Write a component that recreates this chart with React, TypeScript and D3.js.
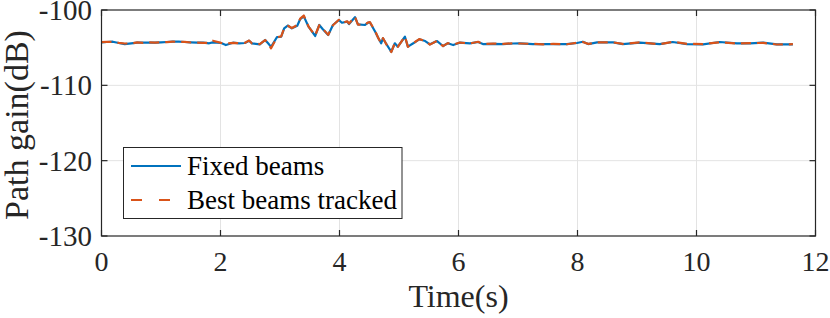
import React from 'react';
import * as d3 from 'd3';

// time samples (s)
const times = [
  0.0, 0.09, 0.19, 0.29, 0.39, 0.5, 0.6, 0.7, 0.8, 0.9, 1.0, 1.1, 1.2, 1.3, 1.4, 1.5, 1.61, 1.71, 1.81, 1.87,
  2.01, 2.09, 2.21, 2.31, 2.41, 2.48, 2.53, 2.66, 2.75, 2.8, 2.85, 2.95, 3.02, 3.07, 3.13, 3.2, 3.29, 3.34, 3.4,
  3.48, 3.59, 3.66, 3.72, 3.81, 3.89, 3.99, 4.04, 4.13, 4.16, 4.26, 4.31, 4.43, 4.48, 4.51, 4.6, 4.65, 4.7, 4.73,
  4.78, 4.87, 4.93, 4.98, 5.1, 5.15, 5.24, 5.34, 5.44, 5.52, 5.64, 5.74, 5.82, 5.91, 6.02, 6.19, 6.33, 6.41, 6.58,
  6.75, 6.91, 7.03, 7.25, 7.42, 7.59, 7.82, 7.99, 8.09, 8.18, 8.33, 8.6, 8.76, 9.05, 9.38, 9.6, 9.84, 10.11, 10.39,
  10.68, 10.9, 11.12, 11.35, 11.62,
];

// path gain (dB), fixed beams
const fixedBeams = [
  -104.29, -104.25, -104.21, -104.38, -104.52, -104.42, -104.34, -104.34, -104.34, -104.32, -104.29, -104.25,
  -104.21, -104.21, -104.25, -104.29, -104.34, -104.34, -104.42, -104.3,
  -104.38, -104.65, -104.34, -104.42, -104.38, -104.08, -104.42, -104.56, -103.98, -104.42, -104.9, -103.59,
  -103.55, -102.43, -102.06, -102.43, -102.09, -101.2, -100.85,
  -102.22, -103.45, -101.99, -102.56, -103.32, -101.99, -101.33, -101.69, -101.55, -101.86, -100.95, -101.9,
  -101.99, -101.69, -101.63, -102.88, -103.68, -104.42, -103.76,
  -104.42, -105.54, -104.42, -104.87, -103.55, -104.87, -104.42, -103.89, -104.12, -104.56, -104.12, -104.78,
  -104.42, -104.65, -104.34, -104.42, -104.25, -104.52, -104.49,
  -104.52, -104.45, -104.42, -104.52, -104.52, -104.52, -104.52, -104.38, -104.21, -104.52, -104.29, -104.29,
  -104.52, -104.34, -104.52, -104.25, -104.52, -104.56, -104.25,
  -104.42, -104.42, -104.34, -104.56, -104.56,
];

// path gain (dB), best beams tracked
const trackedBeams = [
  -104.27, -104.22, -104.24, -104.36, -104.45, -104.44, -104.3, -104.36, -104.31, -104.33, -104.27, -104.27,
  -104.2, -104.23, -104.22, -104.31, -104.33, -104.36, -104.38, -104.08,
  -104.36, -104.45, -104.36, -104.4, -104.36, -104.05, -104.44, -104.52, -104.0, -104.4, -105.09, -103.62,
  -103.5, -102.45, -102.1, -102.4, -102.0, -101.15, -100.73,
  -102.2, -103.4, -102.02, -102.5, -103.3, -102.02, -101.3, -101.72, -101.5, -101.8, -100.89, -101.95,
  -101.95, -101.66, -101.6, -102.8, -103.7, -104.4, -103.72,
  -104.45, -105.58, -104.38, -104.9, -103.5, -104.9, -104.4, -103.86, -104.1, -104.6, -104.08, -104.8,
  -104.4, -104.62, -104.32, -104.44, -104.22, -104.5, -104.46,
  -104.5, -104.42, -104.45, -104.5, -104.55, -104.5, -104.55, -104.36, -104.25, -104.5, -104.31, -104.3,
  -104.5, -104.3, -104.55, -104.22, -104.5, -104.52, -104.28,
  -104.44, -104.4, -104.36, -104.58, -104.54,
];

const xTicks = [0, 2, 4, 6, 8, 10, 12];
const yTicks = [-100, -110, -120, -130];

const legendItems = [
  { label: 'Fixed beams', color: '#0072BD', dash: '' },
  { label: 'Best beams tracked', color: '#D95319', dash: '10,6' },
];

const FONT = '"Liberation Serif", "Times New Roman", serif';

export default function App() {
  const width = 830;
  const height = 318;
  const x = d3.scaleLinear().domain([0, 12]).range([101.5, 815.5]);
  const y = d3.scaleLinear().domain([-130, -100]).range([236, 10]);

  const line = d3
    .line<number>()
    .x((_, i) => x(times[i]))
    .y((d) => y(d));

  const axisColor = '#262626';

  return (
    <svg
      width={width}
      height={height}
      style={{ position: 'absolute', left: 0, top: 0, background: '#fff' }}
      fontFamily={FONT}
    >
      <rect x={0} y={0} width={width} height={height} fill="#fff" />
      {/* grid */}
      {xTicks.slice(1, -1).map((t) => (
        <line key={'gx' + t} x1={x(t)} x2={x(t)} y1={y(-100)} y2={y(-130)} stroke="#e3e3e3" strokeWidth={1} />
      ))}
      {yTicks.slice(1, -1).map((t) => (
        <line key={'gy' + t} x1={x(0)} x2={x(12)} y1={y(t)} y2={y(t)} stroke="#e3e3e3" strokeWidth={1} />
      ))}

      {/* series */}
      <path d={line(fixedBeams) || ''} fill="none" stroke="#0072BD" strokeWidth={2.2} strokeLinejoin="round" />
      <path
        d={line(trackedBeams) || ''}
        fill="none"
        stroke="#D95319"
        strokeWidth={2.2}
        strokeDasharray="10,6"
        strokeLinejoin="round"
      />

      {/* box */}
      <rect
        x={x(0)}
        y={y(-100)}
        width={x(12) - x(0)}
        height={y(-130) - y(-100)}
        fill="none"
        stroke={axisColor}
        strokeWidth={1.2}
      />

      {/* ticks */}
      {xTicks.map((t) => (
        <g key={'tx' + t}>
          <line x1={x(t)} x2={x(t)} y1={y(-130)} y2={y(-130) - 6} stroke={axisColor} strokeWidth={1.2} />
          <line x1={x(t)} x2={x(t)} y1={y(-100)} y2={y(-100) + 6} stroke={axisColor} strokeWidth={1.2} />
          <text x={x(t)} y={271} fontSize={28} textAnchor="middle" fill="#262626">
            {t}
          </text>
        </g>
      ))}
      {yTicks.map((t) => (
        <g key={'ty' + t}>
          <line x1={x(0)} x2={x(0) + 6} y1={y(t)} y2={y(t)} stroke={axisColor} strokeWidth={1.2} />
          <line x1={x(12)} x2={x(12) - 6} y1={y(t)} y2={y(t)} stroke={axisColor} strokeWidth={1.2} />
          <text x={92} y={y(t) + 10} fontSize={29} textAnchor="end" fill="#262626">
            {'-' + Math.abs(t)}
          </text>
        </g>
      ))}

      {/* axis labels */}
      <text x={x(6)} y={307} fontSize={32} textAnchor="middle" fill="#262626">
        Time(s)
      </text>
      <text
        transform={`translate(28, ${(y(-100) + y(-130)) / 2 + 2}) rotate(-90)`}
        fontSize={34}
        textAnchor="middle"
        fill="#262626"
      >
        Path gain(dB)
      </text>

      {/* legend */}
      <rect x={123.5} y={147.5} width={278.5} height={71} fill="#fff" stroke={axisColor} strokeWidth={1} />
      {legendItems.map((d, i) => (
        <g key={d.label}>
          <line
            x1={131}
            x2={181}
            y1={166 + i * 34}
            y2={166 + i * 34}
            stroke={d.color}
            strokeWidth={2.2}
            strokeDasharray={d.dash ? '11,17' : undefined}
          />
          <text x={187} y={166 + i * 34 + 9} fontSize={27} fill="#000">
            {d.label}
          </text>
        </g>
      ))}
    </svg>
  );
}
